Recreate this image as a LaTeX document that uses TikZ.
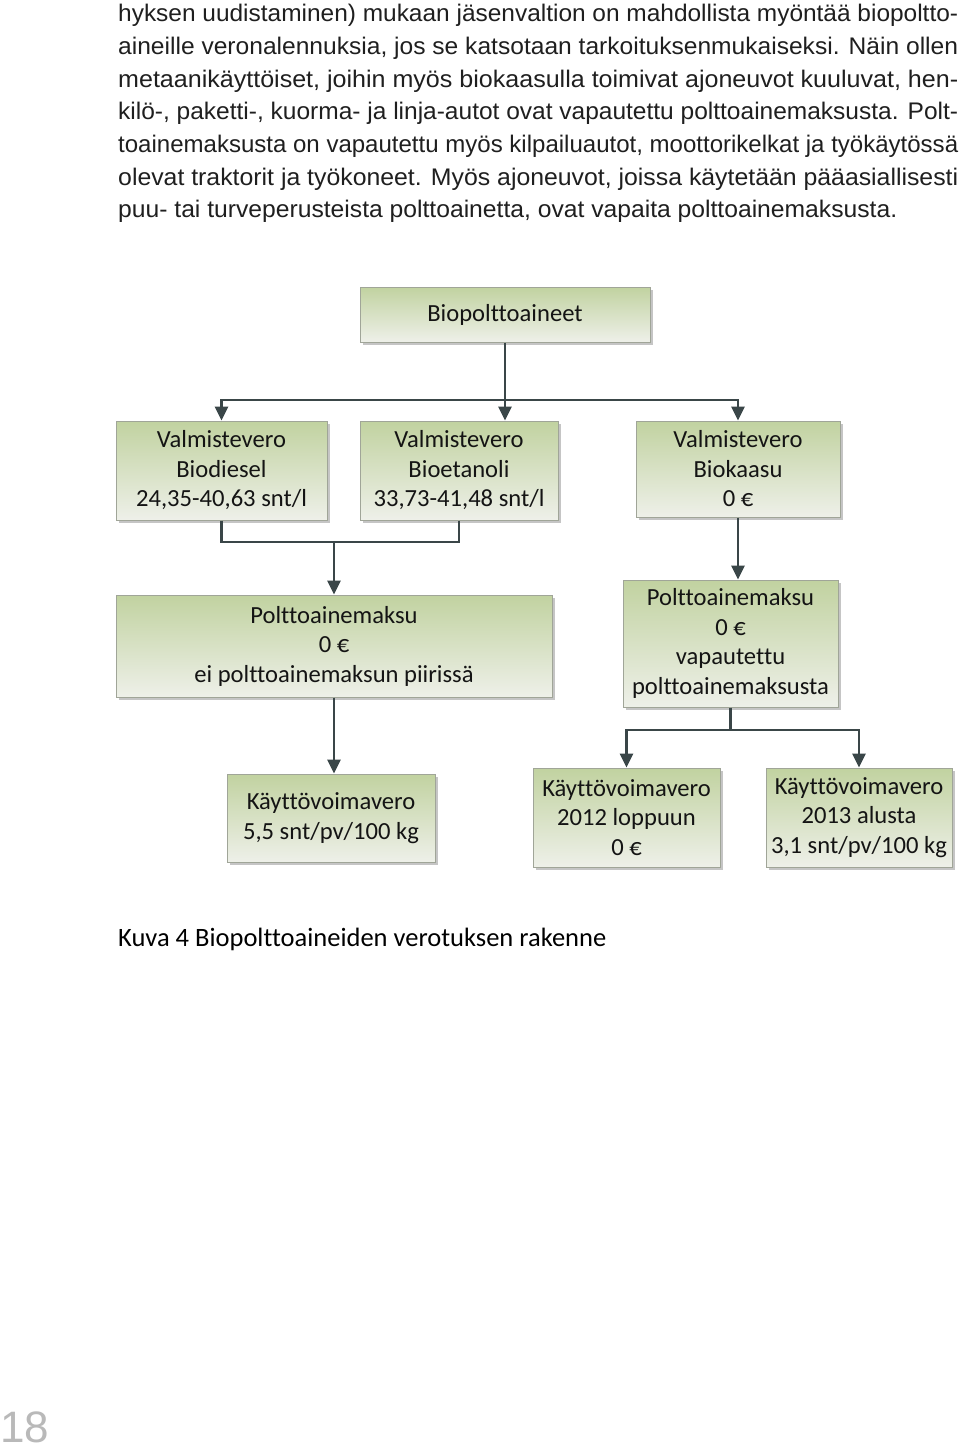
\documentclass[tikz,border=0pt]{standalone}
\usepackage{fontspec}
\usepackage{graphicx}
\usetikzlibrary{arrows.meta,shadows}
\setmainfont{Carlito}[Ligatures=NoCommon]
\newfontfamily\bodyfont{Liberation Sans}
\newfontfamily\capfont{Carlito}[Ligatures=NoCommon]
\definecolor{boxtop}{RGB}{193,210,160}
\definecolor{boxbot}{RGB}{238,240,233}
\definecolor{boxline}{RGB}{160,165,152}
\definecolor{linecol}{RGB}{58,70,72}
\definecolor{pagenum}{RGB}{185,185,185}
\newcommand\pline[2]{\resizebox{#1pt}{\height}{#2}}
\begin{document}
\begin{tikzpicture}[x=1pt,y=-1pt,
  fbox/.style={draw=boxline, line width=1pt, top color=boxtop, bottom color=boxbot,
    drop shadow={shadow xshift=2.5pt,shadow yshift=-2.5pt,fill=black!45,opacity=0.5},
    inner sep=0pt, align=center, font=\fontsize{24.6}{29.5}\selectfont, text=black!92},
  conn/.style={draw=linecol, line width=2.6pt},
  arr/.style={conn, -{Triangle[width=13pt,length=14pt]}},
  para/.style={anchor=base west, inner sep=0pt, text=black!88, font=\bodyfont\fontsize{24}{28}\selectfont}
]
\fill[white] (0,0) rectangle (960,1449);
\useasboundingbox (0,0) rectangle (960,1449);

% paragraph
\node[para] (p1) at (118,21) {\pline{840}{hyksen uudistaminen) mukaan jäsenvaltion on mahdollista myöntää biopoltto-}};
\node[para] (p2) at (118,54) {\pline{840}{aineille veronalennuksia, jos se katsotaan tarkoituksenmukaiseksi. Näin ollen}};
\node[para] (p3) at (118,87) {\pline{840}{metaanikäyttöiset, joihin myös biokaasulla toimivat ajoneuvot kuuluvat, hen-}};
\node[para] (p4) at (118,119) {\pline{840}{kilö-, paketti-, kuorma- ja linja-autot ovat vapautettu polttoainemaksusta. Polt-}};
\node[para] (p5) at (118,152) {\pline{840}{toainemaksusta on vapautettu myös kilpailuautot, moottorikelkat ja työkäytössä}};
\node[para] (p6) at (118,185) {\pline{840}{olevat traktorit ja työkoneet. Myös ajoneuvot, joissa käytetään pääasiallisesti}};
\node[para] (p7) at (118,217) {\pline{779}{puu- tai turveperusteista polttoainetta, ovat vapaita polttoainemaksusta.}};

% boxes
\node[fbox, minimum width=290pt, minimum height=55pt] (bio) at (505,314.5) {Biopolttoaineet};
\node[fbox, minimum width=211pt, minimum height=99pt] (vb1) at (221.5,470.5) {Valmistevero\\Biodiesel\\24,35-40,63 snt/l};
\node[fbox, minimum width=198pt, minimum height=99pt] (vb2) at (459,470.5) {Valmistevero\\Bioetanoli\\33,73-41,48 snt/l};
\node[fbox, minimum width=204pt, minimum height=96pt] (vb3) at (738,469) {Valmistevero\\Biokaasu\\0 €};
\node[fbox, minimum width=436pt, minimum height=102pt] (pm1) at (334,646) {Polttoainemaksu\\0 €\\ei polttoainemaksun piirissä};
\node[fbox, minimum width=215pt, minimum height=127pt] (pm2) at (730.5,643.5) {Polttoainemaksu\\0 €\\vapautettu\\polttoainemaksusta};
\node[fbox, minimum width=208pt, minimum height=88pt] (kv1) at (331,818) {Käyttövoimavero\\5,5 snt/pv/100 kg};
\node[fbox, minimum width=187pt, minimum height=99pt] (kv2) at (626.5,817.5) {Käyttövoimavero\\2012 loppuun\\0 €};
\node[fbox, minimum width=186pt, minimum height=99pt] (kv3) at (859,817.5) {Käyttövoimavero\\2013 alusta\\3,1 snt/pv/100 kg};

% connectors
\coordinate (b1) at (505,400);
\draw[conn] (bio.south) -- (b1);
\draw[arr] (b1) -| (vb1.north);
\draw[arr] (b1) -- (b1 |- vb2.north);
\draw[arr] (b1) -| (vb3.north);

\coordinate (m1) at (334,542);
\draw[conn] (vb1.south) |- (m1);
\draw[conn] (vb2.south) |- (m1);
\draw[arr] (m1) -- (pm1.north);

\draw[arr] (vb3.south) -- (vb3.south |- pm2.north);
\draw[arr] (pm1.south) -- (pm1.south |- kv1.north);

\coordinate (m2) at (730.5,730);
\draw[conn] (pm2.south) -- (m2);
\draw[arr] (m2) -| (kv2.north);
\draw[arr] (m2) -| (kv3.north);

% caption and page number
\node[anchor=base west, inner sep=0pt, font=\capfont\fontsize{26.5}{30}\selectfont] (cap) at (118,946) {Kuva 4 Biopolttoaineiden verotuksen rakenne};
\node[anchor=base west, inner sep=0pt, font=\bodyfont\fontsize{44}{50}\selectfont, text=pagenum] (pg) at (0,1442) {18};
\end{tikzpicture}
\end{document}
